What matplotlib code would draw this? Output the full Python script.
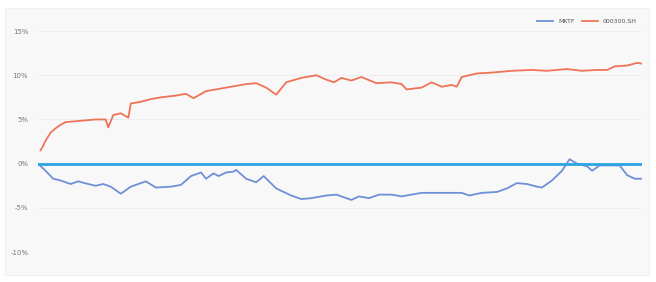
import matplotlib.pyplot as plt
from matplotlib.patches import Rectangle
from matplotlib.ticker import FuncFormatter

# series values (cumulative return, %), indexed by trading day
red_days = [1, 2, 3, 5, 7, 9, 11, 15, 19, 23, 27, 28, 30, 33, 36, 37, 41, 45, 49, 55,
            59, 62, 67, 73, 77, 83, 87, 91, 95, 99, 105, 111, 115, 118, 121, 125, 129,
            135, 141, 145, 147, 153, 157, 161, 165, 167, 169, 175, 181, 189, 197, 203,
            211, 217, 223, 227, 230, 235, 239, 241]
red_vals = [1.5, 2.0, 2.6, 3.5, 4.0, 4.4, 4.7, 4.8, 4.9, 5.0, 5.0, 4.1, 5.5, 5.7, 5.2,
            6.8, 7.0, 7.3, 7.5, 7.7, 7.9, 7.4, 8.2, 8.5, 8.7, 9.0, 9.1, 8.6, 7.8, 9.2,
            9.7, 10.0, 9.5, 9.2, 9.7, 9.4, 9.8, 9.1, 9.2, 9.0, 8.4, 8.6, 9.2, 8.7, 8.9,
            8.7, 9.8, 10.2, 10.3, 10.5, 10.6, 10.5, 10.7, 10.5, 10.6, 10.6, 11.0, 11.1,
            11.4, 11.3]

blue_days = [0, 3, 6, 9, 13, 16, 20, 23, 26, 29, 33, 37, 43, 47, 53, 57, 61, 65, 67, 70,
             72, 75, 78, 79, 83, 87, 90, 95, 101, 105, 109, 115, 119, 123, 125, 128, 132,
             136, 141, 145, 153, 161, 169, 172, 177, 183, 187, 191, 195, 199, 201, 205,
             209, 212, 215, 219, 221, 224, 229, 232, 235, 238, 241]
blue_vals = [0.0, -0.8, -1.7, -1.9, -2.3, -2.0, -2.3, -2.5, -2.3, -2.6, -3.4, -2.6, -2.0,
             -2.7, -2.6, -2.4, -1.4, -1.0, -1.7, -1.1, -1.4, -1.0, -0.9, -0.7, -1.7, -2.1,
             -1.4, -2.8, -3.6, -4.0, -3.9, -3.6, -3.5, -3.9, -4.1, -3.7, -3.9, -3.5, -3.5,
             -3.7, -3.3, -3.3, -3.3, -3.6, -3.3, -3.2, -2.8, -2.2, -2.3, -2.6, -2.7, -1.9,
             -0.8, 0.5, 0.0, -0.3, -0.8, -0.2, -0.2, -0.2, -1.3, -1.7, -1.7]

labels = ['MKTF', '000300.SH']
yticks = [-10, -5, 0, 5, 10, 15]

fig = plt.figure(figsize=(6.56, 2.82), dpi=100, facecolor='white')
fig.patches.append(Rectangle((0.008, 0.025), 0.982, 0.945, transform=fig.transFigure,
                             facecolor='#f8f8f8', edgecolor='#f0f0f0', lw=0.8, zorder=-1))
ax = fig.add_axes([0.058, 0.106, 0.921, 0.784])
ax.set_facecolor('none')

ax.plot(blue_days, blue_vals, color='#6f8fd6', lw=1.3, label=labels[0])
ax.plot(red_days, red_vals, color='#ef7357', lw=1.3, label=labels[1])
ax.axhline(0, color='#2aa6e2', lw=2, zorder=3)

ax.set_xlim(0, 241)
ax.set_ylim(-10, 15)
ax.set_yticks(yticks)
ax.yaxis.set_major_formatter(FuncFormatter(lambda v, p: f'{v:.0f}%'))
ax.set_xticks([])
ax.tick_params(axis='y', length=0, labelsize=5, labelcolor='#777777', pad=7)
ax.grid(axis='y', color='#ececec', lw=0.6)
for s in ax.spines.values():
    s.set_visible(False)

ax.legend(loc='center right', bbox_to_anchor=(1.0, 1.045), ncol=2, frameon=False,
          fontsize=4.5, handlelength=2.5, columnspacing=1.2, labelcolor='#555555')

fig.savefig('out.png', dpi=100)
